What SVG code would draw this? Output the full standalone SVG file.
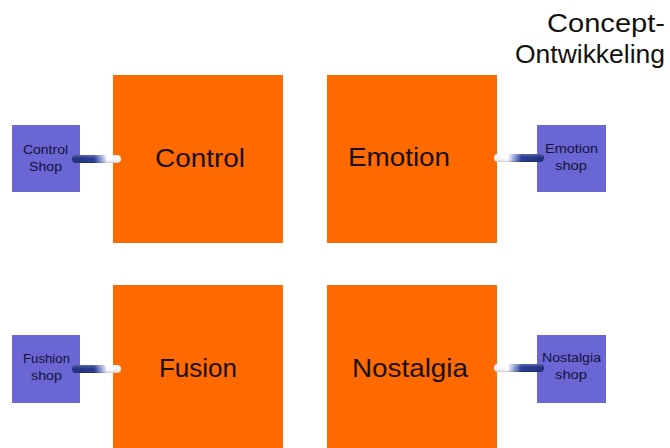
<svg xmlns="http://www.w3.org/2000/svg" width="670" height="448" viewBox="0 0 670 448">
<style>
.big{fill:#ff6a00}
.shop{fill:#6a66d4}
.lbl{font-family:"Liberation Sans",Arial,sans-serif;font-size:26px;fill:#1a1010}
.sl{font-family:"Liberation Sans",Arial,sans-serif;font-size:12px;fill:#12143a}
.title{font-family:"Liberation Sans",Arial,sans-serif;font-size:25px;fill:#111}
</style>
<defs>
<linearGradient id="tubeL" x1="0" y1="0" x2="1" y2="0">
<stop offset="0" stop-color="#1c2a7a"/>
<stop offset="0.45" stop-color="#23378f"/>
<stop offset="0.6" stop-color="#8fa0d8"/>
<stop offset="0.72" stop-color="#ffffff"/>
<stop offset="1" stop-color="#f4f4f8"/>
</linearGradient>
<linearGradient id="tubeR" x1="1" y1="0" x2="0" y2="0">
<stop offset="0" stop-color="#1c2a7a"/>
<stop offset="0.45" stop-color="#23378f"/>
<stop offset="0.6" stop-color="#8fa0d8"/>
<stop offset="0.72" stop-color="#ffffff"/>
<stop offset="1" stop-color="#f4f4f8"/>
</linearGradient>
<linearGradient id="shade" x1="0" y1="0" x2="0" y2="1">
<stop offset="0" stop-color="#ffffff" stop-opacity="0.25"/>
<stop offset="0.5" stop-color="#ffffff" stop-opacity="0"/>
<stop offset="1" stop-color="#000" stop-opacity="0.2"/>
</linearGradient>
</defs>

<g id="title">
<text class="title" x="547" y="32" textLength="118" lengthAdjust="spacingAndGlyphs">Concept-</text>
<text class="title" x="515" y="63" textLength="150" lengthAdjust="spacingAndGlyphs">Ontwikkeling</text>
</g>

<g id="control">
<rect class="big" x="113" y="75" width="170" height="168"/>
<text class="lbl" x="155" y="167" textLength="90" lengthAdjust="spacingAndGlyphs">Control</text>
</g>
<g id="emotion">
<rect class="big" x="327" y="75" width="170" height="168"/>
<text class="lbl" x="348" y="166" textLength="102" lengthAdjust="spacingAndGlyphs">Emotion</text>
</g>
<g id="fusion">
<rect class="big" x="113" y="285" width="170" height="163"/>
<text class="lbl" x="159" y="377" textLength="78" lengthAdjust="spacingAndGlyphs">Fusion</text>
</g>
<g id="nostalgia">
<rect class="big" x="327" y="285" width="170" height="163"/>
<text class="lbl" x="352" y="377" textLength="116" lengthAdjust="spacingAndGlyphs">Nostalgia</text>
</g>

<g id="control-shop">
<rect class="shop" x="12" y="125" width="68" height="67"/>
<text class="sl" x="23" y="154" textLength="45" lengthAdjust="spacingAndGlyphs">Control</text>
<text class="sl" x="29" y="171" textLength="33" lengthAdjust="spacingAndGlyphs">Shop</text>
</g>
<g id="emotion-shop">
<rect class="shop" x="537" y="125" width="69" height="67"/>
<text class="sl" x="545" y="153" textLength="53" lengthAdjust="spacingAndGlyphs">Emotion</text>
<text class="sl" x="555" y="170" textLength="32" lengthAdjust="spacingAndGlyphs">shop</text>
</g>
<g id="fushion-shop">
<rect class="shop" x="12" y="335" width="68" height="68"/>
<text class="sl" x="23" y="363" textLength="47" lengthAdjust="spacingAndGlyphs">Fushion</text>
<text class="sl" x="31" y="380" textLength="31" lengthAdjust="spacingAndGlyphs">shop</text>
</g>
<g id="nostalgia-shop">
<rect class="shop" x="537" y="335" width="69" height="68"/>
<text class="sl" x="542" y="362" textLength="59" lengthAdjust="spacingAndGlyphs">Nostalgia</text>
<text class="sl" x="555" y="379" textLength="32" lengthAdjust="spacingAndGlyphs">shop</text>
</g>

<g id="connectors">
<rect x="72" y="155" width="49" height="8" rx="4" fill="url(#tubeL)"/>
<rect x="72" y="155" width="49" height="8" rx="4" fill="url(#shade)"/>
<rect x="494" y="154" width="50" height="8" rx="4" fill="url(#tubeR)"/>
<rect x="494" y="154" width="50" height="8" rx="4" fill="url(#shade)"/>
<rect x="72" y="365" width="49" height="8" rx="4" fill="url(#tubeL)"/>
<rect x="72" y="365" width="49" height="8" rx="4" fill="url(#shade)"/>
<rect x="494" y="364" width="50" height="8" rx="4" fill="url(#tubeR)"/>
<rect x="494" y="364" width="50" height="8" rx="4" fill="url(#shade)"/>
</g>
</svg>
